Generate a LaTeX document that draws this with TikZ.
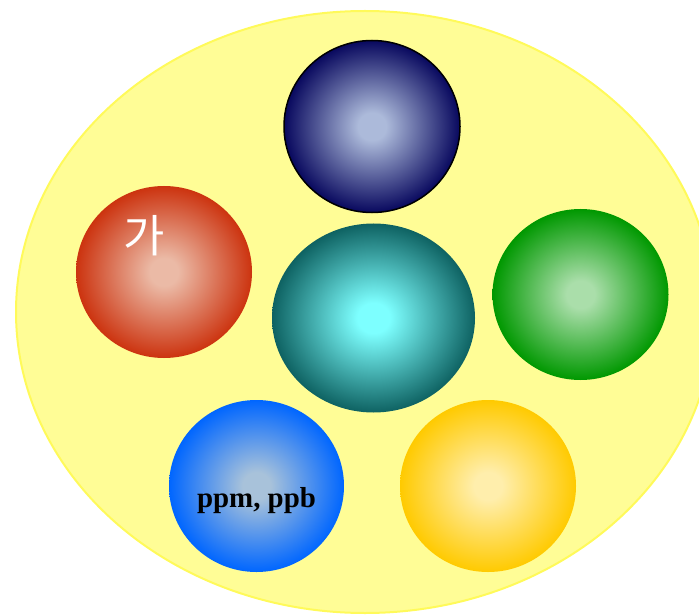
\documentclass[tikz,border=0pt]{standalone}
\usepackage{fontspec}
\setmainfont{Liberation Serif}
\newfontfamily\krfont{Noto Sans CJK KR}
\usetikzlibrary{shapes.geometric}

\definecolor{bgfill}{RGB}{255,253,150}
\definecolor{bgline}{RGB}{255,250,90}
\definecolor{navyin}{RGB}{172,186,218}
\definecolor{navyout}{RGB}{8,8,94}
\definecolor{redin}{RGB}{235,186,166}
\definecolor{redout}{RGB}{204,51,15}
\definecolor{tealin}{RGB}{125,255,255}
\definecolor{tealout}{RGB}{14,98,98}
\definecolor{greenin}{RGB}{170,222,170}
\definecolor{greenout}{RGB}{0,152,0}
\definecolor{bluein}{RGB}{168,194,218}
\definecolor{blueout}{RGB}{0,102,255}
\definecolor{goldin}{RGB}{255,238,172}
\definecolor{goldout}{RGB}{255,202,0}

\pgfdeclareradialshading{navyball}{\pgfpoint{0bp}{0bp}}{color(0bp)=(navyin); color(4bp)=(navyin); color(25bp)=(navyout); color(50bp)=(navyout)}
\pgfdeclareradialshading{redball}{\pgfpoint{0bp}{0bp}}{color(0bp)=(redin); color(4bp)=(redin); color(25bp)=(redout); color(50bp)=(redout)}
\pgfdeclareradialshading{tealball}{\pgfpoint{0bp}{0bp}}{color(0bp)=(tealin); color(4bp)=(tealin); color(25bp)=(tealout); color(50bp)=(tealout)}
\pgfdeclareradialshading{greenball}{\pgfpoint{0bp}{0bp}}{color(0bp)=(greenin); color(4bp)=(greenin); color(25bp)=(greenout); color(50bp)=(greenout)}
\pgfdeclareradialshading{blueball}{\pgfpoint{0bp}{0bp}}{color(0bp)=(bluein); color(4bp)=(bluein); color(25bp)=(blueout); color(50bp)=(blueout)}
\pgfdeclareradialshading{goldball}{\pgfpoint{0bp}{0bp}}{color(0bp)=(goldin); color(4bp)=(goldin); color(25bp)=(goldout); color(50bp)=(goldout)}

\tikzset{
  ball/.style={ellipse, inner sep=0pt, outer sep=0pt, minimum width=176bp, minimum height=172bp},
  balltext/.style={font=\fontsize{29}{29}\selectfont\bfseries, text=black}
}

\begin{document}
\begin{tikzpicture}[x=1bp, y=-1bp]

        \useasboundingbox (0,0) rectangle (699,615);
        \clip (0,0) rectangle (699,615);

        % the big yellow ellipse
        \draw[bgline, line width=2bp, fill=bgfill] (365,312) ellipse [x radius=349, y radius=301];

        % the six balls
        \node[ball, shading=navyball, draw=black, line width=1.5bp] (navy) at (372,126.5) {};
        \node[ball, shading=redball] (red) at (164,272) {};
        \node[ball, shading=tealball, minimum width=203bp, minimum height=189bp] (teal) at (373.5,318) {};
        \node[ball, shading=greenball, minimum height=171bp] (green) at (580.5,294.5) {};
        \node[ball, shading=blueball, minimum width=175bp] (blue) at (256.5,486) {};
        \node[ball, shading=goldball] (gold) at (488,486) {};

        % texts
        \node[text=white, font=\krfont\fontsize{45}{45}\selectfont, inner sep=0pt] (redtext) at (144.5,236) {가};
        \node[balltext, anchor=base, inner sep=0pt] (bluetext) at (256.5,507) {ppm, ppb};

\end{tikzpicture}
\end{document}
